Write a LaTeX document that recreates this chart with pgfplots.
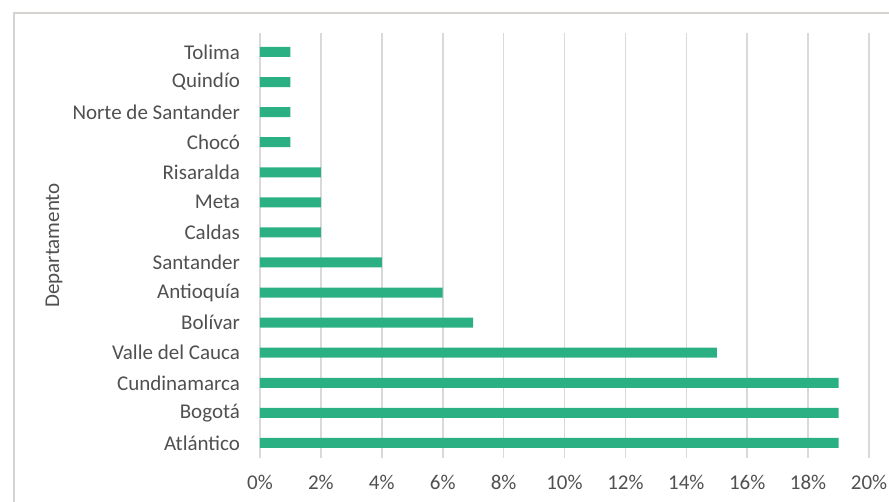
\documentclass[border=0pt]{standalone}
\usepackage{pgfplots}
\pgfplotsset{compat=1.18}
\usepackage{fontspec}
\setmainfont{Carlito}
\definecolor{barg}{HTML}{2BB083}
\definecolor{txt}{HTML}{505050}
\definecolor{gridc}{HTML}{D9D9D9}
\definecolor{framec}{HTML}{D6D2D0}
\begin{document}
\begin{tikzpicture}
\path[use as bounding box] (0,0) rectangle (444.5pt,251pt);
\begin{scope}
\clip (0,0) rectangle (444.5pt,251pt);
\draw[framec, line width=1pt] (7pt,-5pt) rectangle (452pt,244.5pt);
\end{scope}
\begin{axis}[
  at={(130pt,22pt)}, anchor=south west,
  width=304.5pt, height=212.5pt, scale only axis,
  xbar, bar width=5pt,
  xmin=0, xmax=20, ymin=-0.5, ymax=13.63,
  xtick={0,2,...,20},
  xticklabels={0\%,2\%,4\%,6\%,8\%,10\%,12\%,14\%,16\%,18\%,20\%},
  ytick={0,...,13},
  yticklabels={Atlántico,Bogotá,Cundinamarca,Valle del Cauca,Bolívar,Antioquía,Santander,Caldas,Meta,Risaralda,Chocó,Norte de Santander,Quindío,Tolima},
  xmajorgrids, grid style={gridc, line width=0.8pt},
  axis x line*=bottom, axis y line*=left,
  x axis line style={draw=none},
  y axis line style={draw=gridc, line width=0.8pt},
  major tick length=0pt,
  tick label style={font=\fontsize{10.5}{12}\selectfont, text=txt},
  yticklabel style={xshift=-6.5pt},
  xticklabel style={yshift=-5pt},
  ylabel={Departamento},
  ylabel style={at={(axis description cs:-0.338,0.5)}, anchor=center, font=\fontsize{10.5}{12}\selectfont, text=txt},
  /pgf/number format/assume math mode=true,
]
\addplot[draw=none, fill=barg] coordinates {
(19,0) (19,1) (19,2) (15,3) (7,4) (6,5) (4,6) (2,7) (2,8) (2,9) (1,10) (1,11) (1,12) (1,13)
};
\end{axis}
\end{tikzpicture}
\end{document}
